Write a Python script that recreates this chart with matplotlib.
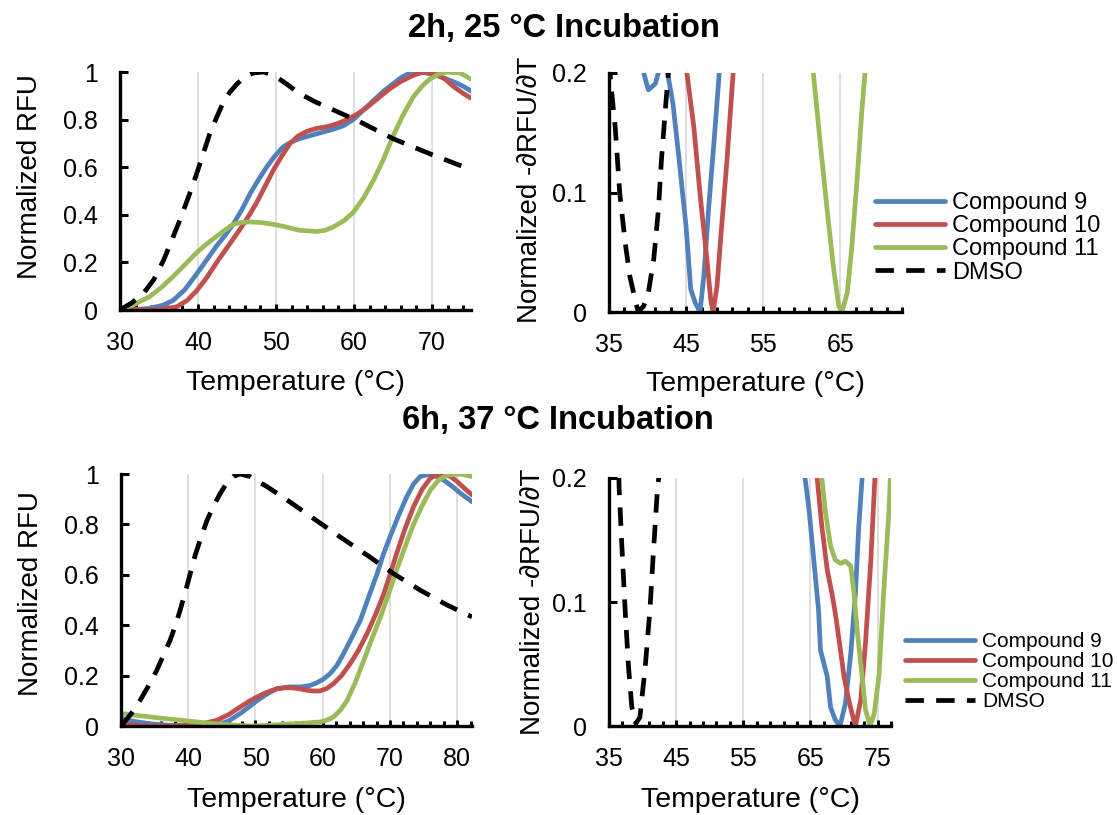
import matplotlib
matplotlib.use('Agg')
import matplotlib.pyplot as plt
from matplotlib.ticker import FixedLocator, FixedFormatter

plt.rcParams['font.family'] = ['Liberation Sans', 'DejaVu Sans']

# ---- 2h, 25 °C : normalized RFU ----
tl_c9_t = [30, 32, 33.8, 35.5, 36.8, 38.3, 39.8, 41.1, 42.4, 43.5, 44.5, 45.6, 46.7, 47.8, 48.8, 49.8, 50.9, 51.9,
           53, 55.2, 57.4, 58.7, 59.9, 61.2, 62.5, 63.8, 65, 66.1, 67.2, 68.5, 70.2, 71.5, 72.7, 74, 75]
tl_c9_v = [0, 0.002, 0.007, 0.02, 0.04, 0.085, 0.15, 0.21, 0.27, 0.315, 0.36, 0.42, 0.49, 0.55, 0.60, 0.645, 0.685, 0.705,
           0.72, 0.74, 0.76, 0.775, 0.80, 0.84, 0.88, 0.92, 0.95, 0.978, 0.996, 1.0, 0.99, 0.975, 0.96, 0.94, 0.92]
tl_c10_t = [30, 31.5, 33.8, 35.5, 37.3, 38.6, 39.8, 41.1, 42.4, 43.9, 45.4, 46.5, 47.5, 48.6, 49.7, 50.8, 51.8, 52.8,
            53.9, 55.2, 56.5, 57.8, 59.1, 60.4, 61.6, 63.1, 64.6, 66.1, 67.6, 68.9, 70.6, 71.7, 72.7, 74, 75]
tl_c10_v = [0.01, 0.003, 0, 0.004, 0.014, 0.04, 0.08, 0.135, 0.2, 0.27, 0.34, 0.395, 0.45, 0.52, 0.59, 0.65, 0.70, 0.73,
            0.75, 0.763, 0.77, 0.782, 0.80, 0.823, 0.85, 0.89, 0.93, 0.962, 0.986, 1.0, 0.99, 0.97, 0.94, 0.91, 0.89]
tl_c11_t = [30, 31.9, 33.8, 35.3, 36.8, 38.3, 39.8, 41.1, 42.4, 43.5, 44.5, 45.6, 46.7, 48.2, 49.7, 51.4, 53, 55.2,
            56.3, 57.4, 58.7, 59.9, 61.2, 62.5, 63.8, 65, 66.3, 67.6, 68.7, 69.7, 70.8, 71.9, 73.6, 75]
tl_c11_v = [0, 0.025, 0.056, 0.095, 0.14, 0.19, 0.24, 0.277, 0.31, 0.337, 0.36, 0.368, 0.37, 0.367, 0.36, 0.348, 0.335, 0.33,
            0.335, 0.35, 0.375, 0.41, 0.47, 0.545, 0.635, 0.73, 0.82, 0.895, 0.94, 0.97, 0.99, 1.0, 0.996, 0.97]
tl_dmso_t = [30, 31.5, 33, 34.3, 35.6, 36.6, 37.7, 38.8, 39.8, 40.7, 41.5, 42.4, 43.2, 44.1, 45, 46, 47.1, 48.4,
             49.7, 51, 53, 55, 57.4, 60.8, 65, 70.2, 75]
tl_dmso_v = [0, 0.03, 0.07, 0.126, 0.21, 0.29, 0.38, 0.477, 0.57, 0.66, 0.74, 0.81, 0.87, 0.916, 0.95, 0.98, 0.996, 1.0,
             0.986, 0.958, 0.91, 0.875, 0.84, 0.79, 0.72, 0.65, 0.59]

# ---- 2h, 25 °C : normalized -dRFU/dT ----
tr_c9_t = [39.0, 39.5, 40.1, 40.5, 41.0, 41.4, 42.0, 42.6, 43.3, 44.1, 45.0, 45.6, 46.2, 46.8, 47.3, 47.9, 48.6, 49.3, 50.0]
tr_c9_v = [0.3, 0.2, 0.186, 0.188, 0.191, 0.2, 0.22, 0.2, 0.174, 0.127, 0.071, 0.019, 0.0075, 0, 0.03, 0.085, 0.141, 0.2, 0.3]
tr_c10_t = [44.5, 45.1, 46.0, 46.8, 47.7, 48.2, 48.5, 49.0, 49.6, 50.3, 51.1, 51.8]
tr_c10_v = [0.3, 0.2, 0.155, 0.099, 0.044, 0.01, 0, 0.021, 0.071, 0.127, 0.2, 0.3]
tr_c11_t = [60.8, 61.5, 62.4, 63.3, 64.1, 64.8, 65.2, 65.9, 66.5, 67.2, 67.8, 68.2, 68.9]
tr_c11_v = [0.3, 0.2, 0.141, 0.085, 0.038, 0.005, 0, 0.016, 0.055, 0.113, 0.169, 0.2, 0.3]
tr_dmso_t = [35.0, 35.3, 35.8, 36.4, 37.1, 37.7, 38.4, 38.8, 39.5, 40.1, 40.8, 41.4, 41.8, 42.3, 42.7, 43.3]
tr_dmso_v = [0.21, 0.187, 0.155, 0.099, 0.058, 0.03, 0.01, 0, 0.005, 0.016, 0.044, 0.085, 0.127, 0.169, 0.2, 0.3]

# ---- 6h, 37 °C : normalized RFU ----
bl_c9_t = [30, 32, 34.3, 37, 40, 42, 44.2, 46, 47.7, 49, 50.2, 51.7, 53.2, 55, 56.7, 58, 59.1, 60.1, 61.1, 62.1,
           63.1, 64.3, 65.6, 66.8, 68.1, 69, 70, 71.2, 72.5, 73.5, 74.5, 76, 77, 78, 79.3, 80.5, 82.2]
bl_c9_v = [0.03, 0.018, 0.009, 0.003, 0, 0.001, 0.003, 0.02, 0.049, 0.075, 0.10, 0.127, 0.148, 0.155, 0.155, 0.16, 0.171,
           0.186, 0.208, 0.24, 0.287, 0.35, 0.42, 0.51, 0.605, 0.68, 0.75, 0.83, 0.91, 0.96, 0.99, 1.0, 0.99, 0.976,
           0.95, 0.923, 0.89]
bl_c10_t = [30, 32, 34.3, 37, 40, 42.2, 44.2, 46, 47.7, 49, 50.2, 51.7, 53.2, 54.5, 55.7, 56.7, 57.6, 58.6, 59.6, 60.6,
            61.6, 62.8, 64.1, 65.3, 66.6, 67.9, 69.1, 70, 71, 72.2, 73.5, 74.8, 76, 77, 78, 79, 80, 81, 82.2]
bl_c10_v = [0.01, 0.003, 0, 0, 0.003, 0.01, 0.022, 0.045, 0.075, 0.097, 0.115, 0.134, 0.148, 0.152, 0.151, 0.147, 0.142,
            0.139, 0.139, 0.149, 0.168, 0.2, 0.248, 0.3, 0.367, 0.445, 0.526, 0.6, 0.685, 0.78, 0.87, 0.94, 0.983, 0.997,
            1.0, 0.99, 0.97, 0.945, 0.917]
bl_c11_t = [30, 32, 34.3, 37, 40, 42, 44.2, 46.5, 49.2, 51.7, 54.2, 57, 59.6, 60.6, 61.6, 62.6, 63.6, 64.8, 66.1, 67.3,
            68.6, 69.8, 71, 72.3, 73.5, 74.8, 76, 77.2, 78.5, 80.5, 82.2]
bl_c11_v = [0.05, 0.043, 0.036, 0.028, 0.02, 0.014, 0.009, 0.004, 0, 0.002, 0.007, 0.011, 0.016, 0.023, 0.036, 0.062, 0.10,
            0.17, 0.26, 0.345, 0.433, 0.525, 0.62, 0.715, 0.80, 0.875, 0.936, 0.975, 0.996, 1.0, 0.99]
bl_dmso_t = [30, 31.4, 32.8, 34, 35.3, 36.3, 37.3, 38.1, 38.8, 39.6, 40.3, 41, 41.8, 42.7, 43.7, 44.7, 45.7, 46.7, 47.7,
             49.2, 50.4, 51.7, 54.7, 58.6, 62.6, 66.6, 70.5, 74.5, 78.5, 82.2]
bl_dmso_v = [0, 0.045, 0.10, 0.155, 0.22, 0.28, 0.34, 0.40, 0.46, 0.535, 0.605, 0.675, 0.74, 0.81, 0.87, 0.92, 0.963, 0.99,
             1.0, 0.99, 0.97, 0.95, 0.897, 0.824, 0.75, 0.678, 0.605, 0.539, 0.48, 0.433]

# ---- 6h, 37 °C : normalized -dRFU/dT ----
br_c9_t = [63.6, 64.2, 64.8, 65.5, 66.2, 66.5, 67.5, 68.0, 68.7, 69.4, 70.2, 71.0, 71.7, 72.2, 72.7, 73.3]
br_c9_v = [0.3, 0.2, 0.174, 0.134, 0.094, 0.061, 0.04, 0.015, 0.005, 0, 0.018, 0.058, 0.107, 0.161, 0.2, 0.3]
br_c10_t = [65.4, 66.0, 66.7, 67.5, 68.2, 68.7, 69.2, 70.0, 70.7, 71.2, 71.7, 72.5, 73.2, 74.0, 74.6, 75.2]
br_c10_v = [0.3, 0.2, 0.161, 0.126, 0.107, 0.091, 0.072, 0.04, 0.021, 0.01, 0, 0.021, 0.067, 0.134, 0.2, 0.3]
br_c11_t = [66.2, 66.7, 67.2, 68.0, 68.7, 69.5, 70.2, 71.0, 71.5, 72.0, 72.7, 73.2, 73.9, 74.5, 75.2, 75.9, 76.7, 76.9, 77.4]
br_c11_v = [0.3, 0.2, 0.174, 0.145, 0.134, 0.131, 0.133, 0.129, 0.107, 0.075, 0.04, 0.013, 0, 0.01, 0.04, 0.107, 0.174, 0.2, 0.3]
br_dmso_t = [36.1, 36.5, 36.9, 37.4, 37.9, 38.4, 39.0, 39.6, 40.4, 41.1, 41.6, 42.2, 42.4, 42.8]
br_dmso_v = [0.3, 0.193, 0.147, 0.094, 0.048, 0.015, 0.002, 0.007, 0.048, 0.094, 0.139, 0.19, 0.2, 0.3]

titles = ['2h, 25 °C Incubation', '6h, 37 °C Incubation']
labels = ['Compound 9', 'Compound 10', 'Compound 11', 'DMSO']
rfu_ticks = [0, 0.2, 0.4, 0.6, 0.8, 1]
rfu_ticklabels = ['0', '0.2', '0.4', '0.6', '0.8', '1']
deriv_ticks = [0, 0.1, 0.2]
deriv_ticklabels = ['0', '0.1', '0.2']
tl_xticks = [30, 40, 50, 60, 70]
bl_xticks = [30, 40, 50, 60, 70, 80]
tr_xticks = [35, 45, 55, 65]
br_xticks = [35, 45, 55, 65, 75]

BLUE, RED, GREEN = '#4F81BD', '#C0504D', '#9BBB59'
LW = 3.4

fig = plt.figure(figsize=(11.17, 8.15), dpi=100)


def add_ax(l, t, r, b):
    W, H = 1117, 815
    return fig.add_axes([l / W, 1 - b / H, (r - l) / W, (b - t) / H])


def style(ax, xlim, xticks, ylim, yticks, yticklabels):
    ax.set_xlim(*xlim)
    ax.set_ylim(*ylim)
    ax.xaxis.set_major_locator(FixedLocator(xticks))
    ax.xaxis.set_minor_locator(FixedLocator(
        [x for x in range(int(xlim[0]), int(xlim[1]) + 1, 2) if x not in xticks]))
    ax.yaxis.set_major_locator(FixedLocator(yticks))
    ax.yaxis.set_major_formatter(FixedFormatter(yticklabels))
    ax.xaxis.set_major_formatter(FixedFormatter([str(x) for x in xticks]))
    for s in ['top', 'right']:
        ax.spines[s].set_visible(False)
    for s in ['left', 'bottom']:
        ax.spines[s].set_linewidth(2.4)
        ax.spines[s].set_color('black')
    ax.tick_params(axis='x', which='major', direction='in', length=4.5, width=2.2,
                   labelsize=18, pad=15)
    ax.tick_params(axis='x', which='minor', direction='in', length=3.8, width=2.2)
    ax.tick_params(axis='y', which='major', direction='in', length=6, width=2.2,
                   labelsize=18, pad=16)
    ax.grid(axis='x', which='major', color='#D9D9D9', linewidth=1.2)
    ax.set_axisbelow(True)


def draw(ax, curves):
    for (t, v), c in zip(curves[:3], [BLUE, RED, GREEN]):
        ax.plot(t, v, color=c, lw=LW, solid_capstyle='round', solid_joinstyle='round')
    t, v = curves[3]
    ax.plot(t, v, color='black', lw=LW, dashes=(3.9, 2.6), dash_capstyle='butt')


# top-left
ax1 = add_ax(120, 72, 471, 310)
style(ax1, (30, 75), tl_xticks, (0, 1), rfu_ticks, rfu_ticklabels)
draw(ax1, [(tl_c9_t, tl_c9_v), (tl_c10_t, tl_c10_v), (tl_c11_t, tl_c11_v), (tl_dmso_t, tl_dmso_v)])

# top-right
ax2 = add_ax(609, 73, 902, 312)
style(ax2, (35, 73), tr_xticks, (0, 0.2), deriv_ticks, deriv_ticklabels)
draw(ax2, [(tr_c9_t, tr_c9_v), (tr_c10_t, tr_c10_v), (tr_c11_t, tr_c11_v), (tr_dmso_t, tr_dmso_v)])

# bottom-left
ax3 = add_ax(121, 474, 472, 726)
style(ax3, (30, 82.2), bl_xticks, (0, 1), rfu_ticks, rfu_ticklabels)
draw(ax3, [(bl_c9_t, bl_c9_v), (bl_c10_t, bl_c10_v), (bl_c11_t, bl_c11_v), (bl_dmso_t, bl_dmso_v)])

# bottom-right
ax4 = add_ax(609, 478, 891, 726)
style(ax4, (35, 77), br_xticks, (0, 0.2), deriv_ticks, deriv_ticklabels)
draw(ax4, [(br_c9_t, br_c9_v), (br_c10_t, br_c10_v), (br_c11_t, br_c11_v), (br_dmso_t, br_dmso_v)])

for ax, ly in [(ax1, 0.559), (ax3, 0.524)]:
    ax.set_ylabel('Normalized RFU', fontsize=20)
    ax.yaxis.set_label_coords(-0.219, ly)
for ax, ly in [(ax2, 0.51), (ax4, 0.50)]:
    ax.set_ylabel('Normalized -∂RFU/∂T', fontsize=20)
    ax.yaxis.set_label_coords(-0.225, ly)
for ax, lyy in [(ax1, -0.252), (ax2, -0.246), (ax3, -0.242), (ax4, -0.246)]:
    ax.set_xlabel('Temperature (°C)', fontsize=20.5)
    ax.xaxis.set_label_coords(0.5, lyy)

fig.text(564 / 1117, 1 - 28 / 815, titles[0], ha='center', va='center',
         fontsize=23.5, fontweight='bold')
fig.text(558 / 1117, 1 - 420 / 815, titles[1], ha='center', va='center',
         fontsize=23.5, fontweight='bold')

for ax, anchor, fs in [(ax2, (875 / 1117, 1 - 192 / 815), 17),
                       (ax4, (905 / 1117, 1 - 632 / 815), 15)]:
    h = ax.get_lines()
    fig.legend(h, labels, loc='upper left', bbox_to_anchor=anchor, frameon=False,
               fontsize=fs, borderpad=0, borderaxespad=0, labelspacing=0.05,
               handlelength=50.4 / fs, handletextpad=5 / fs)

fig.savefig('out.png', dpi=100)
